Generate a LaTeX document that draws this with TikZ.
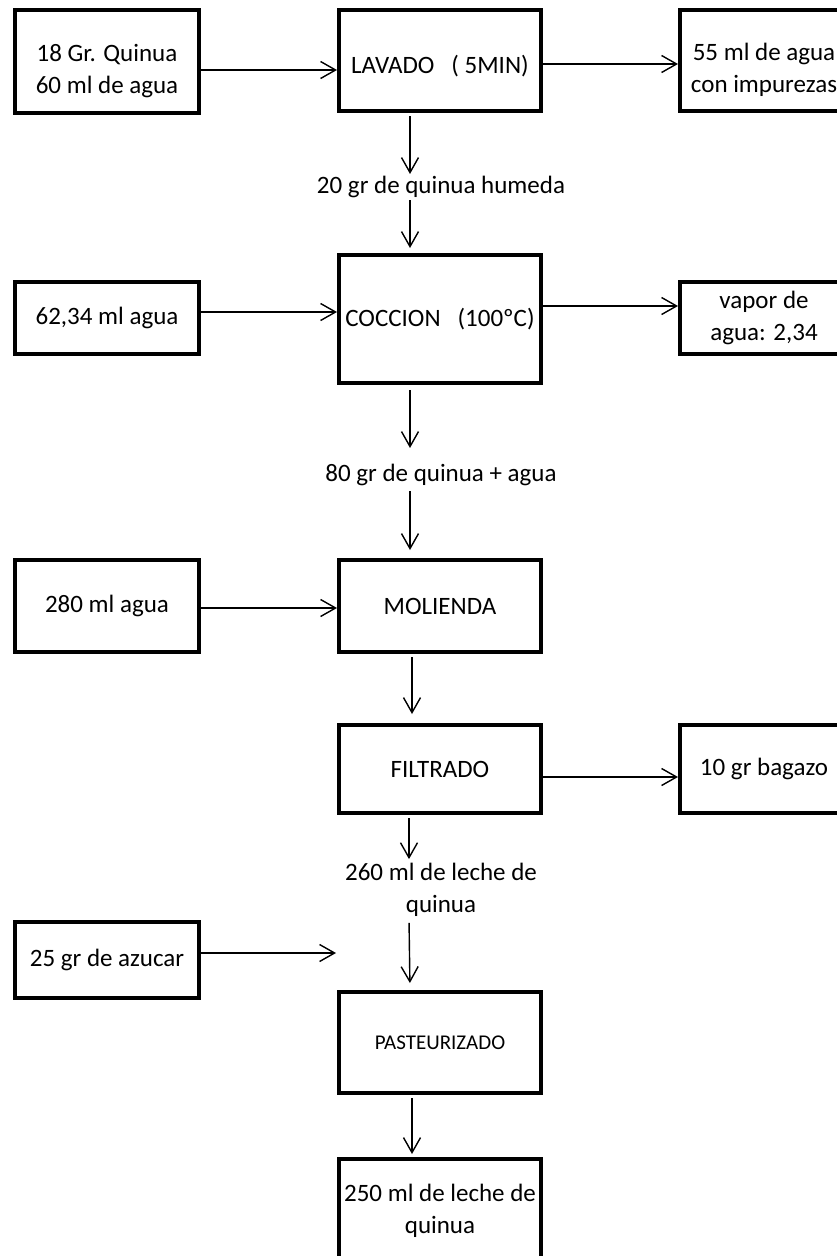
\documentclass[tikz,border=0pt]{standalone}
\usepackage{fontspec}
\setmainfont{Carlito}
\usetikzlibrary{arrows.meta}
\begin{document}
\begin{tikzpicture}[x=1pt,y=-1pt,>={Straight Barb[length=15pt,width=17pt]},
	caja/.style={draw,line width=4pt,align=center,inner sep=0pt,font=\fontsize{25}{32}\selectfont},
	texto/.style={align=center,inner sep=2pt,font=\fontsize{25}{32}\selectfont},
	flecha/.style={->,line width=1.4pt}]
	\useasboundingbox (0,0) rectangle (836,1256);
	% fila del lavado
	\node[caja,minimum width=184pt,minimum height=103pt,label={[texto,yshift=-9.5pt]center:{18 Gr. Quinua\\60 ml de agua}}] (quinua) at (107,61.5) {};
	\node[caja,minimum width=202pt,minimum height=101pt,label={[texto,yshift=-6pt]center:{LAVADO\ \ \ ( 5MIN)}}] (lavado) at (440,60.5) {};
	\node[caja,minimum width=168pt,minimum height=101pt,label={[texto,yshift=-9.5pt]center:{55 ml de agua\\con impurezas}}] (impurezas) at (764,60.5) {};
	\node[texto] (humeda) at (441,187) {20 gr de quinua humeda};
	% fila de la coccion
	\node[caja,minimum width=184pt,minimum height=72pt] (agua1) at (107,318) {62,34 ml agua};
	\node[caja,minimum width=202pt,minimum height=128pt] (coccion) at (440,319) {COCCION\ \ \ (100ºC)};
	\node[caja,minimum width=168pt,minimum height=72pt] (vapor) at (764,318) {vapor de\\agua: 2,34};
	\node[texto] (mezcla) at (441,475) {80 gr de quinua + agua};
	% molienda y filtrado
	\node[caja,minimum width=184pt,minimum height=92pt] (agua2) at (107,606) {280 ml agua};
	\node[caja,minimum width=202pt,minimum height=92pt] (molienda) at (440,606) {MOLIENDA};
	\node[caja,minimum width=202pt,minimum height=88pt] (filtrado) at (440,769) {FILTRADO};
	\node[caja,minimum width=168pt,minimum height=88pt] (bagazo) at (764,769) {10 gr bagazo};
	\node[texto] (leche) at (441,890) {260 ml de leche de\\quinua};
	% pasteurizado
	\node[caja,minimum width=184pt,minimum height=76pt] (azucar) at (107,960) {25 gr de azucar};
	\coordinate (azfin) at (336,953);
	\node[caja,minimum width=202pt,minimum height=101pt,font=\fontsize{21}{22}\selectfont] (pasteur) at (440,1042.5) {PASTEURIZADO};
	\node[caja,minimum width=202pt,minimum height=104pt] (final) at (440,1211) {250 ml de leche de\\quinua};
	% flechas horizontales
	\draw[flecha] ([yshift=-8.5pt]quinua.east) -- ([yshift=-8.5pt]quinua.east -| lavado.west);
	\draw[flecha] ([yshift=-3.5pt]lavado.east) -- ([yshift=-3.5pt]lavado.east -| impurezas.west);
	\draw[flecha] ([yshift=6pt]agua1.east) -- ([yshift=6pt]agua1.east -| coccion.west);
	\draw[flecha] ([yshift=13pt]coccion.east) -- ([yshift=13pt]coccion.east -| vapor.west);
	\draw[flecha] ([yshift=-2pt]agua2.east) -- ([yshift=-2pt]agua2.east -| molienda.west);
	\draw[flecha] ([yshift=-8pt]filtrado.east) -- ([yshift=-8pt]filtrado.east -| bagazo.west);
	\draw[flecha] (azucar.east |- azfin) -- (azfin);
	% flechas verticales
	\draw[flecha,shorten <=3pt] ([xshift=-30pt]lavado.south) -- ([xshift=-31pt]humeda.north);
	\draw[flecha,shorten >=5pt] ([xshift=-31pt]humeda.south) -- ([xshift=-30pt]coccion.north);
	\draw[flecha,shorten <=5pt,shorten >=14pt] ([xshift=-30pt]coccion.south) -- ([xshift=-31pt]mezcla.north);
	\draw[flecha,shorten <=3pt,shorten >=8pt] ([xshift=-31pt]mezcla.south) -- ([xshift=-30pt]molienda.north);
	\draw[flecha,shorten <=3pt,shorten >=9pt] ([xshift=-28pt]molienda.south) -- ([xshift=-28pt]filtrado.north);
	\draw[flecha,shorten <=3pt,shorten >=2pt] ([xshift=-31pt]filtrado.south) -- ([xshift=-32pt]leche.north);
	\draw[flecha,shorten <=4pt,shorten >=7pt] ([xshift=-32pt]leche.south) -- ([xshift=-30pt]pasteur.north);
	\draw[flecha,shorten <=3pt,shorten >=3pt] ([xshift=-28pt]pasteur.south) -- ([xshift=-28pt]final.north);
\end{tikzpicture}
\end{document}
